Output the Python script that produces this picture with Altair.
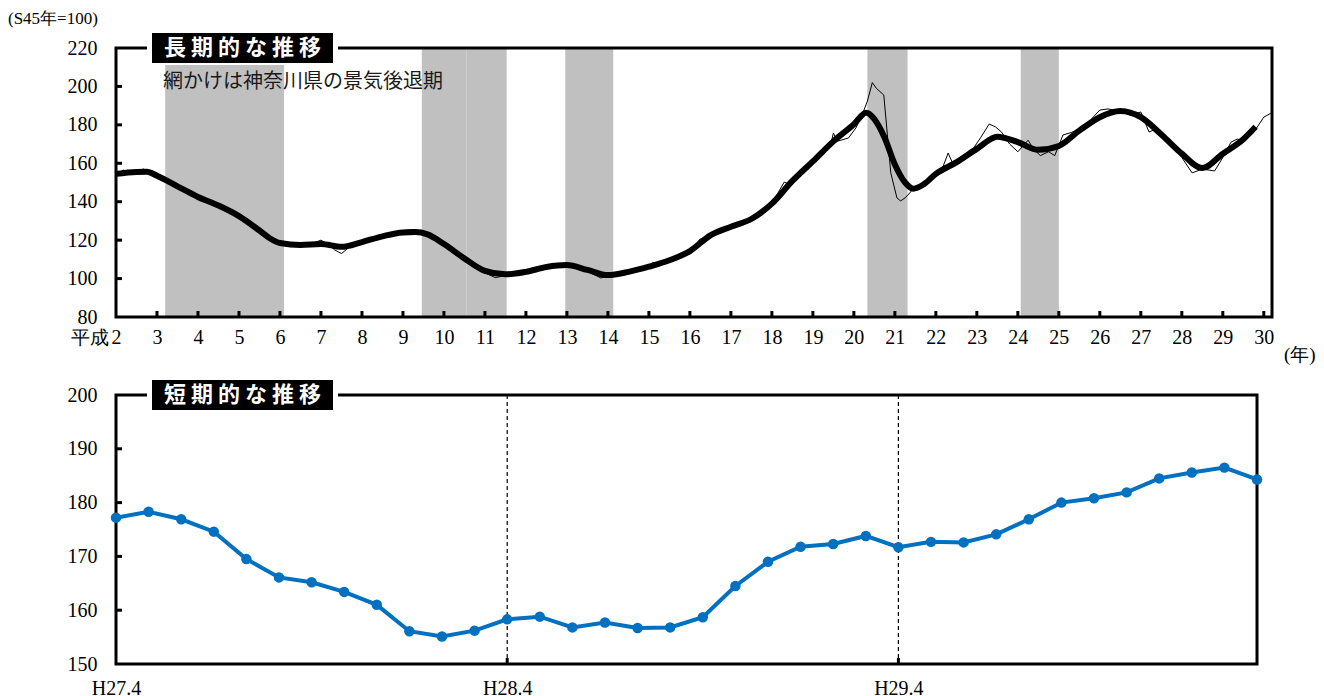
import altair as alt
import pandas as pd

# ---------------- data: long-term (top) ----------------
trend_year = [2.0, 2.5, 2.75, 3.0, 3.5, 4.0, 4.5, 5.0, 5.5, 5.75,
              6.0, 6.5, 7.0, 7.5, 8.0, 8.5, 9.0, 9.3, 9.6, 10.0,
              10.5, 11.0, 11.5, 12.0, 12.5, 13.0, 13.5, 14.0, 14.5, 15.0,
              15.5, 16.0, 16.5, 17.0, 17.5, 18.0, 18.5, 19.0, 19.5, 20.0,
              20.3, 20.5, 20.75, 21.0, 21.25, 21.45, 21.7, 22.0, 22.5, 23.0,
              23.5, 24.0, 24.5, 25.0, 25.5, 26.0, 26.5, 27.0, 27.5, 28.0,
              28.5, 29.0, 29.5, 29.8]
trend_val = [154.5, 155.5, 155.6, 153.5, 148, 142.5, 138, 132.5, 125, 121,
             118.5, 117.5, 118, 116.5, 119, 122, 124, 124.2, 123, 118,
             110.5, 104, 102.2, 103.5, 106, 107, 104.5, 101.8, 103.5, 106.2,
             109.5, 114.3, 122.5, 127, 131, 139, 150.8, 161, 171.4, 180.3,
             186.3, 183, 173.3, 159.4, 150, 146.8, 149, 154.5, 160.5, 167.5,
             173.8, 171, 167, 169, 177, 184, 187.2, 184, 175, 165,
             157.5, 165, 172.5, 179]

raw_year = [2.0, 2.17, 2.33, 2.5, 2.67, 2.83, 3.0, 3.25, 3.5, 3.75,
            4.0, 4.25, 4.5, 4.75, 5.0, 5.25, 5.5, 5.75, 6.0, 6.17,
            6.33, 6.5, 6.75, 7.0, 7.17, 7.33, 7.5, 7.67, 7.83, 8.0,
            8.25, 8.5, 8.75, 9.0, 9.25, 9.5, 9.75, 10.0, 10.25, 10.5,
            10.75, 11.0, 11.25, 11.5, 11.75, 12.0, 12.25, 12.5, 12.67, 12.83,
            13.0, 13.25, 13.5, 13.67, 13.83, 14.0, 14.25, 14.5, 14.75, 15.0,
            15.1, 15.25, 15.5, 15.75, 16.0, 16.25, 16.4, 16.5, 16.75, 17.0,
            17.25, 17.5, 17.75, 18.0, 18.3, 18.45, 18.75, 19.0, 19.26, 19.45,
            19.5, 19.6, 19.87, 20.05, 20.2, 20.33, 20.45, 20.55, 20.73, 20.9,
            21.05, 21.14, 21.25, 21.34, 21.5, 21.65, 21.83, 22.0, 22.17, 22.3,
            22.42, 22.6, 22.83, 23.1, 23.3, 23.45, 23.6, 23.8, 24.0, 24.25,
            24.4, 24.55, 24.75, 24.9, 25.1, 25.3, 25.5, 25.75, 26.0, 26.2,
            26.5, 26.75, 27.0, 27.2, 27.4, 27.55, 27.75, 28.0, 28.25, 28.5,
            28.8, 29.0, 29.2, 29.35, 29.5, 29.75, 30.0, 30.17]
raw_val = [153, 156.5, 155.5, 156, 157, 155, 154, 151, 148, 144,
           142, 140, 137.5, 135.5, 132.5, 129, 125, 121, 118, 117,
           118, 118, 118, 120, 118, 115, 113, 116, 118, 119,
           120, 122, 123, 125, 125.5, 123, 121, 118, 114, 110,
           106, 103, 100.5, 101.5, 103, 103.5, 104.5, 105.5, 107.5, 106.5,
           107, 106, 104, 102, 100.3, 101.5, 102.5, 104, 105, 106,
           108.5, 106.5, 109, 111, 114, 120.6, 121, 122, 125, 127,
           129, 131, 134, 139, 150.2, 149, 155.5, 161, 168, 171,
           175.7, 171.5, 173.2, 178.4, 185, 192.4, 202, 199, 195.5, 155,
           142, 140.4, 142, 144, 148, 149, 152, 155, 158, 165.3,
           159.6, 161, 165, 173.6, 180.4, 179, 176.3, 170, 166, 172,
           167, 164, 166, 164, 174.7, 176, 178, 182, 187.7, 188.3,
           187, 185, 186.7, 176.3, 178, 175.2, 170, 163, 155, 157,
           156, 163, 171, 172.6, 172, 176, 184, 186]

band_start = [3.2, 9.46, 10.545, 12.96, 20.33, 24.07]
band_end = [6.10, 10.545, 11.53, 14.13, 21.31, 25.0]

top_x_ticks = list(range(2, 31))
top_x_inner_ticks = list(range(3, 31))
top_y_ticks = [80, 100, 120, 140, 160, 180, 200, 220]
top_y_inner_ticks = [100, 120, 140, 160, 180, 200]

# ---------------- data: short-term (bottom) ----------------
short_vals = [177.2, 178.3, 176.9, 174.6, 169.5, 166.1, 165.2, 163.4, 161.0, 156.1,
              155.1, 156.2, 158.3, 158.8, 156.8, 157.7, 156.7, 156.8, 158.7, 164.5,
              169.0, 171.8, 172.3, 173.8, 171.7, 172.7, 172.6, 174.1, 176.9, 180.0,
              180.8, 181.9, 184.5, 185.6, 186.5, 184.3]
short_label_pos = [0, 12, 24]
short_label_text = ["H27.4", "H28.4", "H29.4"]
bottom_y_ticks = [150, 160, 170, 180, 190, 200]
bottom_y_inner_ticks = [160, 170, 180, 190]

# ---------------- frames ----------------
W1, H1 = 1156, 269
W2, H2 = 1141, 269
SERIF = "Liberation Serif"
SANS = "Noto Sans CJK JP"
BLUE = "#0070C0"

one = pd.DataFrame({"k": [0]})
trend_df = pd.DataFrame({"year": trend_year, "val": trend_val})
raw_df = pd.DataFrame({"year": raw_year, "val": raw_val})
band_df = pd.DataFrame({"start": band_start, "end": band_end})
xt_df = pd.DataFrame({"year": top_x_inner_ticks})
yt_df = pd.DataFrame({"val": top_y_inner_ticks})
short_df = pd.DataFrame({"idx": list(range(len(short_vals))), "val": short_vals})
vline_df = pd.DataFrame({"idx": short_label_pos[1:]})
byt_df = pd.DataFrame({"val": bottom_y_inner_ticks})


def ax(**kw):
    return alt.Axis(domain=False, ticks=False, tickSize=0, grid=False,
                    labelFont=SERIF, labelFontSize=20, labelColor="black",
                    title=None, labelOverlap=False, labelFlush=False, **kw)


xs1 = alt.Scale(domain=[2, 30.2], nice=False, zero=False)
ys1 = alt.Scale(domain=[80, 220], nice=False, zero=False)
xa1 = ax(values=top_x_ticks, labelPadding=10)
ya1 = ax(values=top_y_ticks, labelPadding=19)


def X1(f):
    return alt.X(f, type="quantitative", scale=xs1, axis=xa1)


def Y1(f):
    return alt.Y(f, type="quantitative", scale=ys1, axis=ya1)


def title_box(label, x0):
    white = alt.Chart(one).mark_rect(color="white").encode(
        x=alt.value(x0 - 5), x2=alt.value(x0 + 186), y=alt.value(-17), y2=alt.value(17))
    black = alt.Chart(one).mark_rect(color="black").encode(
        x=alt.value(x0), x2=alt.value(x0 + 181), y=alt.value(-15), y2=alt.value(15))
    txt = alt.Chart(one).mark_text(text=label, font=SANS, fontSize=22, fontWeight="bold",
                                   color="white", align="center", baseline="middle").encode(
        x=alt.value(x0 + 90.5), y=alt.value(0))
    return [white, black, txt]


bands = alt.Chart(band_df).mark_rect(color="#c0c0c0").encode(
    x=X1("start"), x2="end", y=alt.value(0), y2=alt.value(H1))
frame1 = alt.Chart(one).mark_rect(filled=False, stroke="black", strokeWidth=3).encode(
    x=alt.value(0), x2=alt.value(W1), y=alt.value(0), y2=alt.value(H1))
raw_line = alt.Chart(raw_df).mark_line(color="black", strokeWidth=1).encode(
    x=X1("year"), y=Y1("val"))
trend_line = alt.Chart(trend_df).mark_line(color="black", strokeWidth=6,
                                           interpolate="monotone").encode(
    x=X1("year"), y=Y1("val"))
xticks1 = alt.Chart(xt_df).mark_rule(color="black", strokeWidth=3).encode(
    x=X1("year"), y=alt.value(H1), y2=alt.value(H1 - 6))
yticks1 = alt.Chart(yt_df).mark_rule(color="black", strokeWidth=3).encode(
    y=Y1("val"), x=alt.value(0), x2=alt.value(6))
subtitle = alt.Chart(one).mark_text(text="網かけは神奈川県の景気後退期", font=SANS, fontSize=20,
                                    color="#1a1a1a", align="left", baseline="middle").encode(
    x=alt.value(47), y=alt.value(34))
unit = alt.Chart(one).mark_text(text="(S45年=100)", font=SERIF, fontSize=17,
                                color="black", align="left", baseline="middle").encode(
    x=alt.value(-108), y=alt.value(-29))
heisei = alt.Chart(one).mark_text(text="平成", font=SERIF, fontSize=19,
                                  color="black", align="right", baseline="top").encode(
    x=alt.value(-7), y=alt.value(H1 + 12))
nen = alt.Chart(one).mark_text(text="(年)", font=SERIF, fontSize=19,
                               color="black", align="left", baseline="middle").encode(
    x=alt.value(W1 + 12), y=alt.value(H1 + 38))

top = alt.layer(bands, frame1, raw_line, trend_line, xticks1, yticks1, subtitle,
                unit, heisei, nen, *title_box("長 期 的 な 推 移", 36)).properties(
    width=W1, height=H1)

# ---------------- bottom ----------------
xs2 = alt.Scale(domain=[0, len(short_vals) - 1], nice=False, zero=False)
ys2 = alt.Scale(domain=[150, 200], nice=False, zero=False)
lab_expr = " : ".join(
    f"datum.value == {p} ? '{t}'" for p, t in zip(short_label_pos, short_label_text)) + " : ''"
xa2 = ax(values=short_label_pos, labelExpr=lab_expr, labelPadding=14)
ya2 = ax(values=bottom_y_ticks, labelPadding=19)


def X2(f):
    return alt.X(f, type="quantitative", scale=xs2, axis=xa2)


def Y2(f):
    return alt.Y(f, type="quantitative", scale=ys2, axis=ya2)


frame2 = alt.Chart(one).mark_rect(filled=False, stroke="black", strokeWidth=3).encode(
    x=alt.value(0), x2=alt.value(W2), y=alt.value(0), y2=alt.value(H2))
vlines = alt.Chart(vline_df).mark_rule(color="black", strokeWidth=1.2, strokeDash=[4, 3]).encode(
    x=X2("idx"), y=alt.value(0), y2=alt.value(H2))
xticks2 = alt.Chart(vline_df).mark_rule(color="black", strokeWidth=3).encode(
    x=X2("idx"), y=alt.value(H2), y2=alt.value(H2 - 6))
yticks2 = alt.Chart(byt_df).mark_rule(color="black", strokeWidth=3).encode(
    y=Y2("val"), x=alt.value(0), x2=alt.value(6))
sline = alt.Chart(short_df).mark_line(color=BLUE, strokeWidth=4).encode(
    x=X2("idx"), y=Y2("val"))
spts = alt.Chart(short_df).mark_circle(color=BLUE, size=110, opacity=1).encode(
    x=X2("idx"), y=Y2("val"))

bottom = alt.layer(frame2, vlines, xticks2, yticks2, sline, spts,
                   *title_box("短 期 的 な 推 移", 36)).properties(width=W2, height=H2)

chart = alt.vconcat(top, bottom, spacing=13).properties(
    padding={"left": 0, "top": 2, "right": 0, "bottom": 0}
).configure_view(strokeOpacity=0)

chart.save("out.html", embed_options={"renderer": "svg", "actions": False})
